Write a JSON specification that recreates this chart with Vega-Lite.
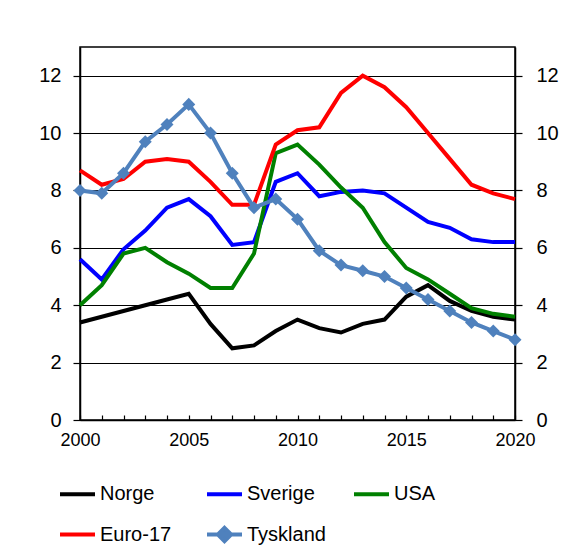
{
  "$schema": "https://vega.github.io/schema/vega-lite/v6.json",
  "width": 435,
  "height": 373,
  "autosize": "none",
  "padding": {"left": 80, "top": 47, "right": 57, "bottom": 131},
  "background": "white",
  "config": {
    "font": "Liberation Sans",
    "view": {"stroke": "black", "strokeWidth": 1.5},
    "axis": {"domainColor": "black", "domainWidth": 1.5, "tickColor": "black", "tickWidth": 1.2, "labelColor": "black", "gridColor": "black", "gridWidth": 1, "gridOpacity": 1, "title": null},
    "legend": {"padding": 0, "offset": 0}
  },
  "data": {"values": [
    {"year": 2000, "series": "Norge", "value": 3.4},
    {"year": 2001, "series": "Norge", "value": 3.6},
    {"year": 2002, "series": "Norge", "value": 3.8},
    {"year": 2003, "series": "Norge", "value": 4.0},
    {"year": 2004, "series": "Norge", "value": 4.2},
    {"year": 2005, "series": "Norge", "value": 4.4},
    {"year": 2006, "series": "Norge", "value": 3.35},
    {"year": 2007, "series": "Norge", "value": 2.5},
    {"year": 2008, "series": "Norge", "value": 2.6},
    {"year": 2009, "series": "Norge", "value": 3.1},
    {"year": 2010, "series": "Norge", "value": 3.5},
    {"year": 2011, "series": "Norge", "value": 3.2},
    {"year": 2012, "series": "Norge", "value": 3.05},
    {"year": 2013, "series": "Norge", "value": 3.35},
    {"year": 2014, "series": "Norge", "value": 3.5},
    {"year": 2015, "series": "Norge", "value": 4.3},
    {"year": 2016, "series": "Norge", "value": 4.7},
    {"year": 2017, "series": "Norge", "value": 4.15},
    {"year": 2018, "series": "Norge", "value": 3.8},
    {"year": 2019, "series": "Norge", "value": 3.6},
    {"year": 2020, "series": "Norge", "value": 3.5},
    {"year": 2000, "series": "Sverige", "value": 5.6},
    {"year": 2001, "series": "Sverige", "value": 4.9},
    {"year": 2002, "series": "Sverige", "value": 5.95},
    {"year": 2003, "series": "Sverige", "value": 6.6},
    {"year": 2004, "series": "Sverige", "value": 7.4},
    {"year": 2005, "series": "Sverige", "value": 7.7},
    {"year": 2006, "series": "Sverige", "value": 7.1},
    {"year": 2007, "series": "Sverige", "value": 6.1},
    {"year": 2008, "series": "Sverige", "value": 6.2},
    {"year": 2009, "series": "Sverige", "value": 8.3},
    {"year": 2010, "series": "Sverige", "value": 8.6},
    {"year": 2011, "series": "Sverige", "value": 7.8},
    {"year": 2012, "series": "Sverige", "value": 7.95},
    {"year": 2013, "series": "Sverige", "value": 8.0},
    {"year": 2014, "series": "Sverige", "value": 7.9},
    {"year": 2015, "series": "Sverige", "value": 7.4},
    {"year": 2016, "series": "Sverige", "value": 6.9},
    {"year": 2017, "series": "Sverige", "value": 6.7},
    {"year": 2018, "series": "Sverige", "value": 6.3},
    {"year": 2019, "series": "Sverige", "value": 6.2},
    {"year": 2020, "series": "Sverige", "value": 6.2},
    {"year": 2000, "series": "USA", "value": 4.0},
    {"year": 2001, "series": "USA", "value": 4.7},
    {"year": 2002, "series": "USA", "value": 5.8},
    {"year": 2003, "series": "USA", "value": 6.0},
    {"year": 2004, "series": "USA", "value": 5.5},
    {"year": 2005, "series": "USA", "value": 5.1},
    {"year": 2006, "series": "USA", "value": 4.6},
    {"year": 2007, "series": "USA", "value": 4.6},
    {"year": 2008, "series": "USA", "value": 5.8},
    {"year": 2009, "series": "USA", "value": 9.3},
    {"year": 2010, "series": "USA", "value": 9.6},
    {"year": 2011, "series": "USA", "value": 8.9},
    {"year": 2012, "series": "USA", "value": 8.1},
    {"year": 2013, "series": "USA", "value": 7.4},
    {"year": 2014, "series": "USA", "value": 6.2},
    {"year": 2015, "series": "USA", "value": 5.3},
    {"year": 2016, "series": "USA", "value": 4.9},
    {"year": 2017, "series": "USA", "value": 4.4},
    {"year": 2018, "series": "USA", "value": 3.9},
    {"year": 2019, "series": "USA", "value": 3.7},
    {"year": 2020, "series": "USA", "value": 3.6},
    {"year": 2000, "series": "Euro-17", "value": 8.7},
    {"year": 2001, "series": "Euro-17", "value": 8.2},
    {"year": 2002, "series": "Euro-17", "value": 8.4},
    {"year": 2003, "series": "Euro-17", "value": 9.0},
    {"year": 2004, "series": "Euro-17", "value": 9.1},
    {"year": 2005, "series": "Euro-17", "value": 9.0},
    {"year": 2006, "series": "Euro-17", "value": 8.3},
    {"year": 2007, "series": "Euro-17", "value": 7.5},
    {"year": 2008, "series": "Euro-17", "value": 7.5},
    {"year": 2009, "series": "Euro-17", "value": 9.6},
    {"year": 2010, "series": "Euro-17", "value": 10.1},
    {"year": 2011, "series": "Euro-17", "value": 10.2},
    {"year": 2012, "series": "Euro-17", "value": 11.4},
    {"year": 2013, "series": "Euro-17", "value": 12.0},
    {"year": 2014, "series": "Euro-17", "value": 11.6},
    {"year": 2015, "series": "Euro-17", "value": 10.9},
    {"year": 2016, "series": "Euro-17", "value": 10.0},
    {"year": 2017, "series": "Euro-17", "value": 9.1},
    {"year": 2018, "series": "Euro-17", "value": 8.2},
    {"year": 2019, "series": "Euro-17", "value": 7.9},
    {"year": 2020, "series": "Euro-17", "value": 7.7},
    {"year": 2000, "series": "Tyskland", "value": 8.0},
    {"year": 2001, "series": "Tyskland", "value": 7.9},
    {"year": 2002, "series": "Tyskland", "value": 8.6},
    {"year": 2003, "series": "Tyskland", "value": 9.7},
    {"year": 2004, "series": "Tyskland", "value": 10.3},
    {"year": 2005, "series": "Tyskland", "value": 11.0},
    {"year": 2006, "series": "Tyskland", "value": 10.0},
    {"year": 2007, "series": "Tyskland", "value": 8.6},
    {"year": 2008, "series": "Tyskland", "value": 7.4},
    {"year": 2009, "series": "Tyskland", "value": 7.7},
    {"year": 2010, "series": "Tyskland", "value": 7.0},
    {"year": 2011, "series": "Tyskland", "value": 5.9},
    {"year": 2012, "series": "Tyskland", "value": 5.4},
    {"year": 2013, "series": "Tyskland", "value": 5.2},
    {"year": 2014, "series": "Tyskland", "value": 5.0},
    {"year": 2015, "series": "Tyskland", "value": 4.6},
    {"year": 2016, "series": "Tyskland", "value": 4.2},
    {"year": 2017, "series": "Tyskland", "value": 3.8},
    {"year": 2018, "series": "Tyskland", "value": 3.4},
    {"year": 2019, "series": "Tyskland", "value": 3.1},
    {"year": 2020, "series": "Tyskland", "value": 2.8}
  ]},
  "encoding": {
    "x": {"field": "year", "type": "quantitative",
      "scale": {"domain": [2000, 2020], "nice": false, "zero": false},
      "axis": {"values": [2000,2001,2002,2003,2004,2005,2006,2007,2008,2009,2010,2011,2012,2013,2014,2015,2016,2017,2018,2019,2020],
        "labelExpr": "datum.value % 5 === 0 ? format(datum.value, 'd') : ''",
        "grid": false, "tickSize": -5, "labelPadding": 16, "labelFontSize": 18, "labelFlush": false, "labelOverlap": false}}
  },
  "layer": [
    {
      "mark": {"type": "line", "strokeWidth": 4, "clip": false},
      "encoding": {
        "y": {"field": "value", "type": "quantitative",
          "scale": {"domain": [0, 13], "nice": false},
          "axis": {"orient": "left", "values": [0,2,4,6,8,10,12], "grid": true, "tickSize": 7, "labelPadding": 12, "labelFontSize": 20}},
        "color": {"field": "series", "type": "nominal",
          "scale": {"domain": ["Norge", "Sverige", "USA", "Euro-17", "Tyskland"], "range": ["#000000", "#0000FF", "#008000", "#FF0000", "#4F81BD"]},
          "legend": {"orient": "none", "legendX": -22, "legendY": 425, "direction": "horizontal", "columns": 3, "gridAlign": "all", "columnPadding": 20, "rowPadding": 8,
            "symbolType": "stroke", "symbolSize": 1225, "symbolStrokeWidth": 4, "labelFontSize": 20, "labelOffset": 3, "labelColor": "black", "title": null,
            "encode": {"symbols": {"update": {"fill": {"scale": "color", "field": "value"}, "shape": {"signal": "datum.value === 'Tyskland' ? 'M-1,0H1M0,-0.38L0.38,0L0,0.38L-0.38,0Z' : 'stroke'"}}}}}}
      }
    },
    {
      "transform": [{"filter": "datum.series === 'Tyskland'"}],
      "mark": {"type": "point", "shape": "diamond", "filled": true, "size": 170, "opacity": 1, "color": "#4F81BD", "clip": false},
      "encoding": {
        "y": {"field": "value", "type": "quantitative",
          "scale": {"domain": [0, 13], "nice": false},
          "axis": {"orient": "right", "values": [0,2,4,6,8,10,12], "grid": false, "tickSize": 7, "labelPadding": 14, "labelFontSize": 20}}
      }
    }
  ],
  "resolve": {"axis": {"y": "independent"}}
}
